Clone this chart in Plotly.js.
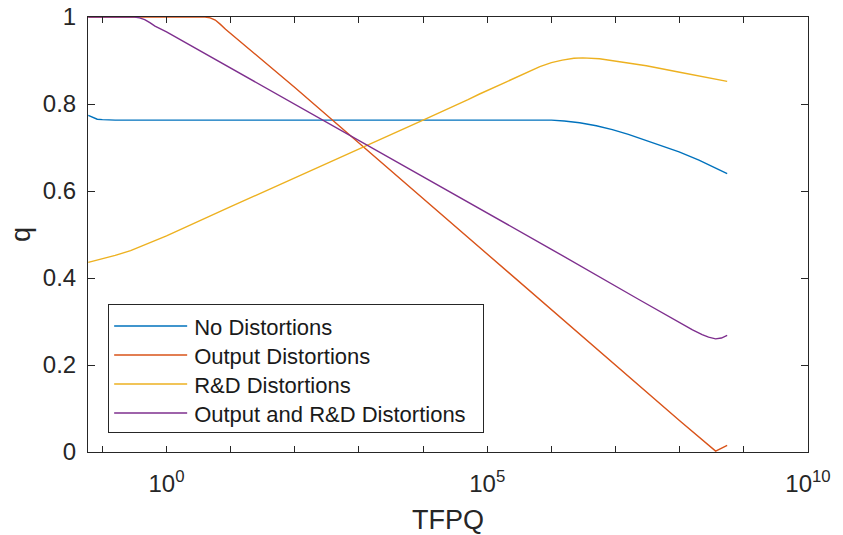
<!DOCTYPE html>
<html>
<head>
<meta charset="utf-8">
<script src="https://cdn.plot.ly/plotly-3.0.1.min.js"></script>
<style>html,body{margin:0;padding:0;background:#fff;}#chart{width:843px;height:535px;}</style>
</head>
<body>
<div id="chart"></div>
<script>
// log10(TFPQ) sample points and q values
const noDistLogTFPQ = [-1.22, -1.15, -1.08, -1.0, -0.8, 0, 2, 4, 5.5, 6.0, 6.2, 6.44, 6.7, 6.95, 7.2, 7.48, 7.75, 7.99, 8.3, 8.5, 8.74];
const noDistQ       = [0.774, 0.769, 0.765, 0.764, 0.763, 0.763, 0.763, 0.763, 0.763, 0.763, 0.761, 0.757, 0.750, 0.741, 0.730, 0.716, 0.703, 0.690, 0.671, 0.657, 0.640];

const outDistLogTFPQ = [-1.22, 0, 0.6, 0.68, 0.76, 0.84, 0.92, 2, 3, 4, 5, 6, 7, 8, 8.56, 8.74];
const outDistQ       = [1.0, 1.0, 1.0, 0.998, 0.993, 0.983, 0.972, 0.838, 0.710, 0.582, 0.455, 0.327, 0.199, 0.072, 0.002, 0.015];

const rdDistLogTFPQ = [-1.22, -1.03, -0.8, -0.56, 0, 1, 2.08, 3, 4, 4.7, 4.88, 5.3, 5.6, 5.82, 6.0, 6.17, 6.35, 6.49, 6.75, 7.0, 7.48, 8.0, 8.4, 8.74];
const rdDistQ       = [0.436, 0.443, 0.452, 0.463, 0.497, 0.564, 0.635, 0.697, 0.763, 0.810, 0.823, 0.851, 0.871, 0.886, 0.895, 0.901, 0.905, 0.906, 0.904, 0.899, 0.888, 0.873, 0.862, 0.852];

const bothDistLogTFPQ = [-1.22, -0.5, -0.42, -0.34, -0.26, -0.18, 0, 2, 4, 6, 7.37, 8.0, 8.2, 8.35, 8.45, 8.56, 8.65, 8.74];
const bothDistQ       = [1.0, 1.0, 0.998, 0.994, 0.987, 0.979, 0.966, 0.800, 0.633, 0.466, 0.350, 0.297, 0.281, 0.270, 0.264, 0.260, 0.262, 0.268];

const seriesNames = ['No Distortions', 'Output Distortions', 'R&D Distortions', 'Output and R&D Distortions'];
const seriesColors = ['#0072BD', '#D95319', '#EDB120', '#7E2F8E'];

const xTickExp = [0, 5, 10];
const xTickText = ['10<sup>0</sup>', '10<sup>5</sup>', '10<sup>10</sup>'];
const xMinorExp = [-1, 1, 2, 3, 4, 6, 7, 8, 9];
const yTickVals = [0, 0.2, 0.4, 0.6, 0.8, 1];
const yTickText = ['0', '0.2', '0.4', '0.6', '0.8', '1'];

const toTFPQ = arr => arr.map(e => Math.pow(10, e));
const xs = [noDistLogTFPQ, outDistLogTFPQ, rdDistLogTFPQ, bothDistLogTFPQ];
const ys = [noDistQ, outDistQ, rdDistQ, bothDistQ];

const traces = xs.map((x, i) => ({
  x: toTFPQ(x), y: ys[i], type: 'scatter', mode: 'lines',
  name: seriesNames[i],
  line: {color: seriesColors[i], width: 1.4}
}));

const fontFam = 'Liberation Sans, Arial, Helvetica, sans-serif';
const axisCol = '#262626';

const layout = {
  width: 843, height: 535,
  margin: {l: 88, r: 35, t: 17, b: 83},
  paper_bgcolor: '#ffffff', plot_bgcolor: '#ffffff',
  font: {family: fontFam, size: 24, color: axisCol},
  showlegend: true,
  legend: {
    x: 0.028, y: 0.044, xanchor: 'left', yanchor: 'bottom',
    bgcolor: '#ffffff', bordercolor: axisCol, borderwidth: 1,
    font: {family: fontFam, size: 22, color: '#1a1a1a'},
    itemwidth: 75, tracegroupgap: 0
  },
  xaxis: {
    type: 'log', range: [-1.224, 10],
    tickmode: 'array', tickvals: toTFPQ(xTickExp), ticktext: xTickText,
    ticks: 'inside', ticklen: 6, tickwidth: 1, tickcolor: axisCol,
    minor: {tickmode: 'array', tickvals: toTFPQ(xMinorExp), ticks: 'inside', ticklen: 6, tickwidth: 1, tickcolor: axisCol, showgrid: false},
    showline: true, linecolor: axisCol, linewidth: 1, mirror: 'allticks',
    showgrid: false, zeroline: false,
    tickfont: {size: 24, color: axisCol},
    ticklabelstandoff: 10,
    title: {text: 'TFPQ', font: {size: 27, color: axisCol}, standoff: 15}
  },
  yaxis: {
    range: [0, 1],
    tickmode: 'array', tickvals: yTickVals, ticktext: yTickText,
    ticks: 'inside', ticklen: 7, tickwidth: 1, tickcolor: axisCol,
    showline: true, linecolor: axisCol, linewidth: 1, mirror: 'ticks',
    showgrid: false, zeroline: false,
    tickfont: {size: 24, color: axisCol},
    ticklabelstandoff: 6,
    title: {text: 'q', font: {size: 27, color: axisCol}, standoff: 4}
  }
};

Plotly.newPlot('chart', traces, layout, {displayModeBar: false, staticPlot: true}).then(() => {
  // lengthen legend line samples and tighten row spacing (cosmetic only)
  document.querySelectorAll('.legend .legendlines path').forEach(p => {
    p.setAttribute('d', 'M5,0h73');
  });
  const items = Array.from(document.querySelectorAll('.legend .traces'));
  if (items.length > 1) {
    const getY = el => {
      const m = /translate\(\s*([-\d.]+)[ ,]+([-\d.]+)/.exec(el.getAttribute('transform') || '');
      return m ? [parseFloat(m[1]), parseFloat(m[2])] : [0, 0];
    };
    const first = getY(items[0]);
    const origStep = getY(items[1])[1] - first[1];
    const step = 29;
    items.forEach((el, i) => {
      const p = getY(el);
      el.setAttribute('transform', 'translate(' + p[0] + ',' + (first[1] + i * step) + ')');
    });
    const shrink = items.length * (origStep - step);
    const bg = document.querySelector('.legend rect.bg');
    const legend = document.querySelector('g.legend');
    if (bg && legend) {
      const h = parseFloat(bg.getAttribute('height'));
      bg.setAttribute('height', h - shrink);
      const w = parseFloat(bg.getAttribute('width'));
      bg.setAttribute('width', w + 12);
      const m = /translate\(\s*([-\d.]+)[ ,]+([-\d.]+)/.exec(legend.getAttribute('transform') || '');
      if (m) legend.setAttribute('transform', 'translate(' + m[1] + ',' + (parseFloat(m[2]) + shrink) + ')');
    }
  }
});
</script>
</body>
</html>
